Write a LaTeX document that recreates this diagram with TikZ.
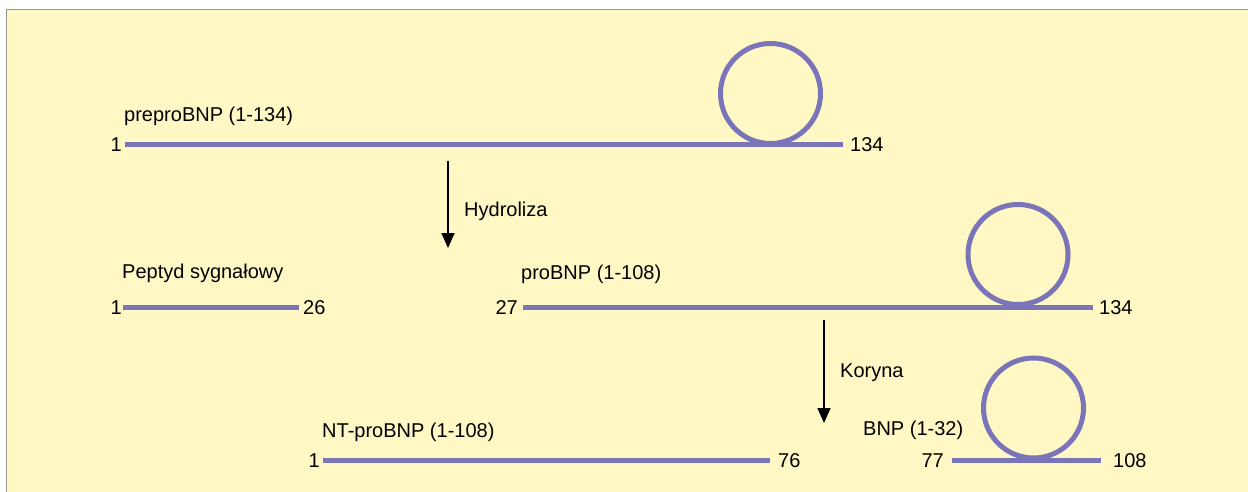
\documentclass[tikz,border=0pt]{standalone}
\usepackage{fontspec}
\setmainfont{Liberation Sans}
\usetikzlibrary{arrows.meta,calc}
\definecolor{bgyellow}{RGB}{255,248,196}
\definecolor{chain}{RGB}{122,116,185}
\definecolor{frame}{RGB}{150,150,150}
\tikzset{
  lbl/.style={inner sep=0pt, font=\fontsize{20}{23}\selectfont, text=black},
  numl/.style={lbl, anchor=base east},
  numr/.style={lbl, anchor=base west},
  title/.style={lbl, anchor=base west},
  chainline/.style={draw=chain, line width=5pt},
  loop/.style={draw=chain, line width=5pt},
  flow/.style={draw=black, line width=1.6pt, -{Triangle[width=13pt,length=15pt]}},
}
\begin{document}
\begin{tikzpicture}[x=1pt,y=-1pt]
\useasboundingbox (0,0) rectangle (1248,492);
\fill[white] (0,0) rectangle (1248,492);
\fill[bgyellow] (7,10) rectangle (1248,492);
\draw[frame, line width=1.2pt] (6.5,492) -- (6.5,9.5) -- (1248,9.5);

% preproBNP
\coordinate (a1) at (125,145);
\coordinate (a2) at (843,145);
\draw[loop] (770.5,93.5) circle[radius=50pt];
\draw[chainline] (a1) -- (a2);
\node[numl] (na1) at ($(a1)+(-3,7)$) {1};
\node[numr] (na2) at ($(a2)+(7,7)$) {134};
\node[title] (ta) at (124,122) {preproBNP (1-134)};

% Hydroliza arrow
\coordinate (h1) at (448,161);
\coordinate (h2) at (448,248);
\draw[flow] (h1) -- (h2);
\node[title] (th) at (464,216) {Hydroliza};

% Peptyd sygnalowy
\coordinate (p1) at (123,307);
\coordinate (p2) at (299,307);
\draw[chainline] (p1) -- (p2);
\node[numl] (np1) at ($(p1)+(-1,7)$) {1};
\node[numr] (np2) at ($(p2)+(4,7)$) {26};
\node[title] (tp) at (122,278) {Peptyd sygnałowy};

% proBNP
\coordinate (b1) at (523,307);
\coordinate (b2) at (1093,307);
\draw[loop] (1018,254.5) circle[radius=50pt];
\draw[chainline] (b1) -- (b2);
\node[numl] (nb1) at ($(b1)+(-5,7)$) {27};
\node[numr] (nb2) at ($(b2)+(6,7)$) {134};
\node[title] (tb) at (521,279) {proBNP (1-108)};

% Koryna arrow
\coordinate (k1) at (824,320);
\coordinate (k2) at (824,423);
\draw[flow] (k1) -- (k2);
\node[title] (tk) at (840,377) {Koryna};

% NT-proBNP
\coordinate (c1) at (323,460);
\coordinate (c2) at (770,460);
\draw[chainline] (c1) -- (c2);
\node[numl] (nc1) at ($(c1)+(-3,7)$) {1};
\node[numr] (nc2) at ($(c2)+(8,7)$) {76};
\node[title] (tc) at (322,437) {NT-proBNP (1-108)};

% BNP
\coordinate (d1) at (952,460);
\coordinate (d2) at (1101,460);
\draw[loop] (1033.5,408) circle[radius=50pt];
\draw[chainline] (d1) -- (d2);
\node[numl] (nd1) at ($(d1)+(-8,7)$) {77};
\node[numr] (nd2) at ($(d2)+(12,7)$) {108};
\node[title] (td) at (863,435) {BNP (1-32)};
\end{tikzpicture}
\end{document}
